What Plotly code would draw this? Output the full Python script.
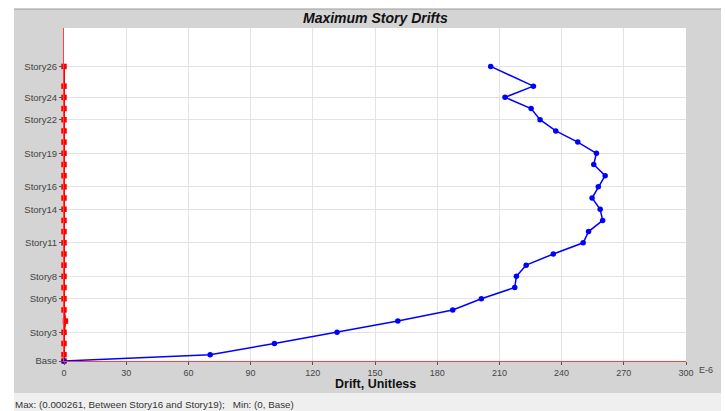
import plotly.graph_objects as go

# story levels (elevation, m) and drift values (E-6)
stories = ["Base", "Story1", "Story2", "Story3", "Story4", "Story5", "Story6", "Story7",
           "Story8", "Story9", "Story10", "Story11", "Story12", "Story13", "Story14",
           "Story15", "Story16", "Story17", "Story18", "Story19", "Story20", "Story21",
           "Story22", "Story23", "Story24", "Story25", "Story26"]
elevations = [0, 1.7, 4.7, 7.7, 10.7, 13.7, 16.7, 19.7, 22.7, 25.7, 28.7, 31.7, 34.7,
              37.7, 40.7, 43.7, 46.7, 49.7, 52.7, 55.7, 58.7, 61.7, 64.7, 67.7, 70.7,
              73.7, 79.0]
drift_x = [0, 70.5, 101.5, 131.7, 161, 187.5, 201.3, 217.4, 218.2, 222.9, 236, 250.4,
           253, 259.8, 258.6, 254.7, 257.7, 261, 255.5, 256.8, 247.8, 237.2, 229.6,
           225.3, 212.7, 226.4, 205.8]
drift_y = [0, 0, 0, 0, 0.7, 0, 0, 0, 0, 0, 0, 0, 0, 0, 0, 0, 0, 0, 0, 0, 0, 0, 0, 0,
           0, 0, 0]

label_stories = ["Base", "Story3", "Story6", "Story8", "Story11", "Story14", "Story16",
                 "Story19", "Story22", "Story24", "Story26"]
x_ticks = [0, 30, 60, 90, 120, 150, 180, 210, 240, 270, 300]

W, H = 725, 411
L, R, T, B = 64, 39, 28, 50
pw, ph = W - L - R, H - T - B


def px_x(p):
    return (p - L) / pw


def px_y(p):
    return (H - B - p) / ph


FONT = "Liberation Sans, Arial, sans-serif"
GRAY = "#d4d4d4"

fig = go.Figure()
fig.add_trace(go.Scatter(
    x=drift_y, y=elevations, mode="lines+markers",
    line=dict(color="#ff0000", width=2),
    marker=dict(symbol="square", size=5.5, color="#ff0000"),
    cliponaxis=False, hoverinfo="skip",
))
fig.add_trace(go.Scatter(
    x=drift_x, y=elevations, mode="lines+markers",
    line=dict(color="#0000ff", width=1.5),
    marker=dict(symbol="circle", size=5.5, color="#0000ff"),
    cliponaxis=False,
))

label_elev = [elevations[stories.index(s)] for s in label_stories]


def rect(x0, x1, y0, y1, color):
    return dict(type="rect", xref="paper", yref="paper", layer="below",
                x0=px_x(x0), x1=px_x(x1), y0=px_y(y1), y1=px_y(y0),
                fillcolor=color, line=dict(width=0))


shapes = [
    # white surroundings of the gray window
    rect(0, W, 0, 9, "white"),
    rect(0, 14, 0, H, "white"),
    rect(721, W, 0, H, "white"),
    # status bar
    rect(14, 721, 393, H, "#efefef"),
    dict(type="line", xref="paper", yref="paper", layer="below",
         x0=px_x(14), x1=px_x(721), y0=px_y(9), y1=px_y(9),
         line=dict(color="#9a9a9a", width=1)),
]

annotations = [
    dict(text="<b><i>Maximum Story Drifts</i></b>", xref="paper", yref="paper",
         x=px_x(375), y=px_y(18), showarrow=False, xanchor="center", yanchor="middle",
         font=dict(family=FONT, size=14, color="#111")),
    dict(text="<b>Drift, Unitless</b>", xref="paper", yref="paper",
         x=px_x(375), y=px_y(384), showarrow=False, xanchor="center", yanchor="middle",
         font=dict(family=FONT, size=12.5, color="#111")),
    dict(text="E-6", xref="paper", yref="paper",
         x=px_x(697), y=px_y(370), showarrow=False, xanchor="left", yanchor="middle",
         font=dict(family=FONT, size=9, color="#444")),
    dict(text="Max: (0.000261, Between Story16 and Story19);&nbsp;&nbsp;&nbsp;Min: (0, Base)",
         xref="paper", yref="paper", x=px_x(13), y=px_y(404), showarrow=False,
         xanchor="left", yanchor="middle",
         font=dict(family=FONT, size=9.8, color="#333")),
]

fig.update_layout(
    width=W, height=H,
    margin=dict(l=L, r=R, t=T, b=B, pad=0),
    paper_bgcolor=GRAY, plot_bgcolor="white",
    showlegend=False,
    shapes=shapes, annotations=annotations,
    font=dict(family=FONT),
)
fig.update_xaxes(
    range=[0, 300], tickvals=x_ticks, ticktext=[str(v) for v in x_ticks],
    showgrid=True, gridcolor="#e3e3e3", gridwidth=1, zeroline=False,
    showline=True, linecolor="#ff4040", linewidth=1,
    ticks="outside", ticklen=3, tickcolor="#555",
    tickfont=dict(family=FONT, size=9, color="#444"),
)
fig.update_yaxes(
    range=[0, 89.3], tickvals=label_elev, ticktext=label_stories,
    showgrid=True, gridcolor="#e3e3e3", gridwidth=1, zeroline=False,
    showline=True, linecolor="#ff4040", linewidth=1,
    ticks="outside", ticklen=4, tickcolor="#555",
    tickfont=dict(family=FONT, size=9.5, color="#444"),
)

fig.write_html("out.html", config={"displayModeBar": False},
               post_script="document.body.style.margin='0px';")
